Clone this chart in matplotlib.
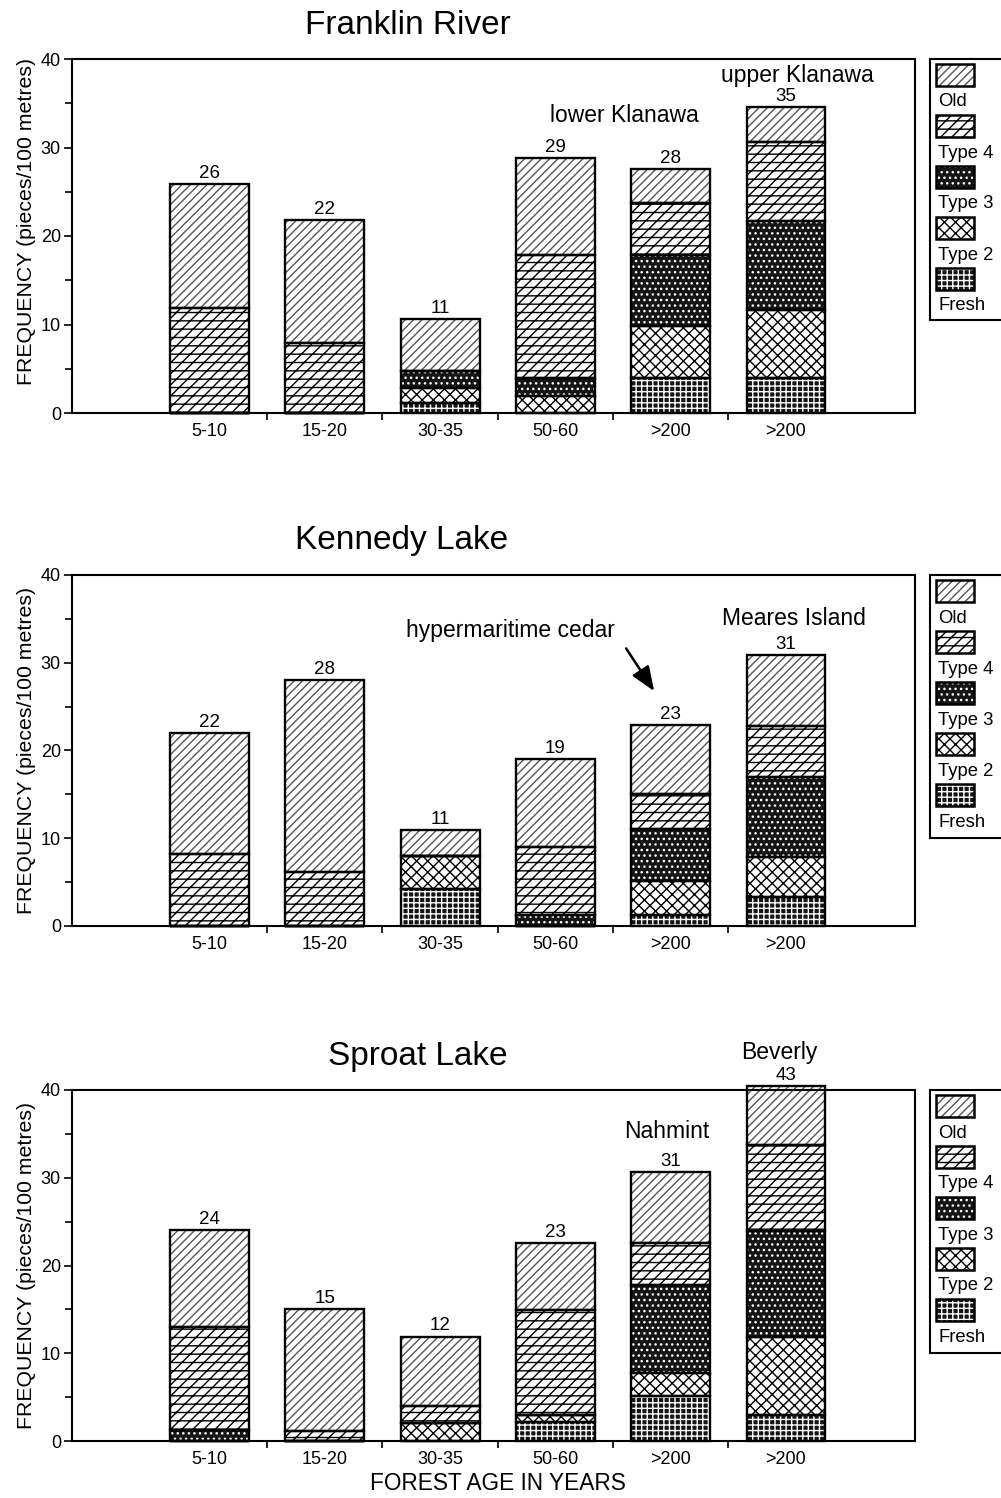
import numpy as np
import matplotlib.pyplot as plt
from matplotlib.patches import Rectangle

plt.rcParams['font.family'] = ['Liberation Sans', 'DejaVu Sans']

ages = ['5-10', '15-20', '30-35', '50-60', '>200', '>200']
classes = ['Fresh', 'Type 2', 'Type 3', 'Type 4', 'Old']   # stacked bottom -> top

# Franklin River
franklin_fresh = [0, 0, 1.1, 0, 4.0, 4.0]
franklin_type2 = [0, 0, 1.7, 1.9, 5.8, 7.6]
franklin_type3 = [0, 0, 2.0, 2.0, 8.1, 10.1]
franklin_type4 = [11.9, 7.9, 0, 13.9, 5.8, 8.9]
franklin_old = [14.0, 13.9, 5.8, 11.0, 3.9, 4.0]
franklin_totals = ['26', '22', '11', '29', '28', '35']

# Kennedy Lake
kennedy_fresh = [0, 0, 4.2, 0, 1.2, 3.3]
kennedy_type2 = [0, 0, 3.8, 0, 3.9, 4.6]
kennedy_type3 = [0, 0, 0, 1.2, 6.0, 9.1]
kennedy_type4 = [8.2, 6.2, 0, 7.8, 3.9, 5.8]
kennedy_old = [13.8, 21.8, 2.9, 10.0, 7.9, 8.1]
kennedy_totals = ['22', '28', '11', '19', '23', '31']

# Sproat Lake
sproat_fresh = [0, 0, 0, 2.2, 5.1, 3.0]
sproat_type2 = [0, 0, 2.0, 0.8, 2.7, 8.9]
sproat_type3 = [1.2, 0, 0, 0, 10.0, 12.0]
sproat_type4 = [11.8, 1.1, 2.0, 11.9, 4.8, 9.8]
sproat_old = [11.0, 13.9, 7.9, 7.7, 8.1, 6.8]
sproat_totals = ['24', '15', '12', '23', '31', '43']

# face colour, hatch colour, hatch
styles = {
    'Fresh': ('#151515', 'white', '+++'),
    'Type 2': ('white', 'black', 'xxx'),
    'Type 3': ('#151515', 'white', '...'),
    'Type 4': ('white', 'black', '///--'),
    'Old': ('white', '#555555', '////'),
}

W, H = 1001, 1498
fig = plt.figure(figsize=(W / 100, H / 100), dpi=100)


def draw_panel(top_px, bottom_px, layers, totals, title, title_x, title_y, notes, ylab_y=0.5):
    ax = fig.add_axes([72 / W, 1 - bottom_px / H, 843 / W, (bottom_px - top_px) / H])
    x = np.arange(len(ages))
    bottom = np.zeros(len(ages))
    for name, vals in zip(classes, layers):
        face, hc, hatch = styles[name]
        vals = np.array(vals, dtype=float)
        ax.bar(x, vals, 0.685, bottom=bottom, color=face, edgecolor=hc, hatch=hatch,
               linewidth=0, clip_on=False, zorder=2)
        ax.bar(x, vals, 0.685, bottom=bottom, fill=False, edgecolor='black',
               linewidth=1.7, clip_on=False, zorder=3)
        bottom += vals
    for xi, top, lab in zip(x, bottom, totals):
        ax.annotate(lab, (xi, top), xytext=(0, 1.5), textcoords='offset points',
                    ha='center', va='bottom', fontsize=13.5, annotation_clip=False)

    ax.set_xlim(-1.193, 6.119)
    ax.set_ylim(0, 40)
    ax.set_xticks(x)
    ax.set_xticklabels(ages, fontsize=13)
    ax.set_xticks(x[:-1] + 0.5, minor=True)
    ax.tick_params(axis='x', which='major', length=0, pad=7)
    ax.tick_params(axis='x', which='minor', length=5, width=1.2, direction='out')
    ax.set_yticks([0, 10, 20, 30, 40])
    ax.set_yticks([5, 15, 25, 35], minor=True)
    ax.tick_params(axis='y', which='major', length=6, width=1.2, labelsize=13, pad=2)
    ax.tick_params(axis='y', which='minor', length=5, width=1.2)
    for s in ax.spines.values():
        s.set_linewidth(1.5)
    ax.set_ylabel('FREQUENCY (pieces/100 metres)', fontsize=15.3)
    ax.yaxis.set_label_coords(-0.043, ylab_y)

    fig.text(title_x / W, 1 - title_y / H, title, fontsize=24, ha='center', va='center')
    for txt, nx, ny in notes:
        ax.text(nx, ny, txt, fontsize=16.5, ha='center', va='center', clip_on=False)
    return ax


def draw_legend(top_px, bottom_px):
    h = bottom_px - top_px
    lg = fig.add_axes([930 / W, 1 - bottom_px / H, 90 / W, h / H])
    lg.set_xlim(0, 90)
    lg.set_ylim(h, 0)
    lg.set_xticks([])
    lg.set_yticks([])
    for s in lg.spines.values():
        s.set_linewidth(1.5)
    for i, name in enumerate(classes[::-1]):
        face, hc, hatch = styles[name]
        y0 = 5 + i * 51
        lg.add_patch(Rectangle((6, y0), 38, 22, facecolor=face, edgecolor=hc, hatch=hatch, linewidth=0))
        lg.add_patch(Rectangle((6, y0), 38, 22, fill=False, edgecolor='black', linewidth=1.8))
        lg.text(8, y0 + 38, name, fontsize=13.3, va='center', ha='left')


draw_panel(59, 413,
           [franklin_fresh, franklin_type2, franklin_type3, franklin_type4, franklin_old],
           franklin_totals, 'Franklin River', 408, 25,
           [('upper Klanawa', 5.1, 38.1), ('lower Klanawa', 3.6, 33.6)], ylab_y=0.54)
draw_legend(59, 320)

ax2 = draw_panel(575, 926,
                 [kennedy_fresh, kennedy_type2, kennedy_type3, kennedy_type4, kennedy_old],
                 kennedy_totals, 'Kennedy Lake', 402, 540,
                 [('hypermaritime cedar', 2.61, 33.7), ('Meares Island', 5.07, 35.0)])
ax2.annotate('', xy=(3.87, 26.5), xytext=(3.6, 31.9),
             arrowprops=dict(arrowstyle='-|>,head_width=0.6,head_length=1.5', color='black', lw=1.8))
draw_legend(575, 838)

ax3 = draw_panel(1090, 1441,
                 [sproat_fresh, sproat_type2, sproat_type3, sproat_type4, sproat_old],
                 sproat_totals, 'Sproat Lake', 418, 1057,
                 [('Nahmint', 3.97, 35.3), ('Beverly', 4.94, 44.3)])
draw_legend(1090, 1353)
fig.text(498 / W, 1 - 1483 / H, 'FOREST AGE IN YEARS', fontsize=16.3, ha='center', va='center')

fig.savefig('out.png', dpi=100)
